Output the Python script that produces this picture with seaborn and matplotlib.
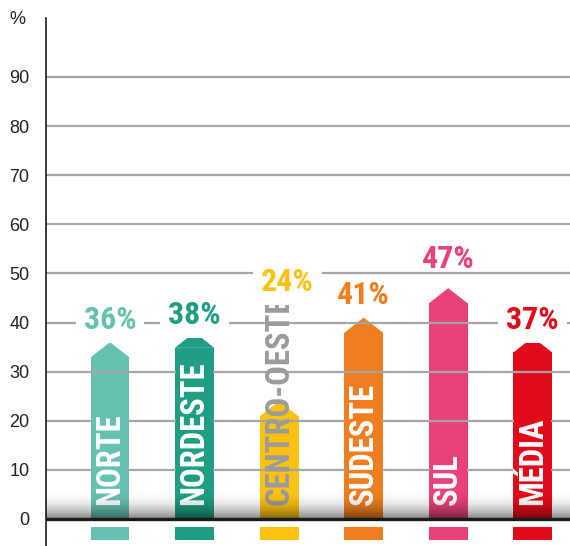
import numpy as np
import pandas as pd
import seaborn as sns
import matplotlib
matplotlib.use("Agg")
import matplotlib.pyplot as plt
from matplotlib.patches import Polygon
from matplotlib import font_manager as fm

# --- data -------------------------------------------------------------
regions = ["NORTE", "NORDESTE", "CENTRO-OESTE", "SUDESTE", "SUL", "MÉDIA"]
values = [36, 38, 24, 41, 47, 37]
colors = ["#66C1B1", "#1F9E83", "#FDC211", "#EE7E1F", "#E8417B", "#E20B1B"]
text_colors = ["white", "white", "#9B9B9B", "white", "white", "white"]
y_ticks = [0, 10, 20, 30, 40, 50, 60, 70, 80, 90]

# --- layout -----------------------------------------------------------
label_lift = [4.6, 3.6, 24.2, 4.7, 5.9, 3.6]   # gap between arrow point and value label
label_dx = [0, 0, 0.1, 0, 0, 0]
HEAD = 3.1      # height of the arrow point, in data units
BAR_W = 0.46
X_LIM = (-0.757, 5.44)
Y_LIM = (-5.5, 102)

df = pd.DataFrame({"region": regions, "value": values})

# --- fonts ------------------------------------------------------------
sns.set_theme(style="white")
available = {f.name for f in fm.fontManager.ttflist}
narrow = "DejaVu Sans"
for cand in ["Roboto Condensed", "Liberation Sans Narrow", "DejaVu Sans Condensed"]:
    if cand in available:
        narrow = cand
        break
plain = "Liberation Sans" if "Liberation Sans" in available else "DejaVu Sans"
plt.rcParams["font.family"] = [plain, "DejaVu Sans"]

fig = plt.figure(figsize=(5.70, 5.46), dpi=100)
ax = fig.add_axes([46 / 570, 0, 524 / 570, 528 / 546])

# bar bodies drawn by seaborn up to the shoulder of each arrow
body = df.assign(body=df["value"] - HEAD)
sns.barplot(data=body, x="region", y="body", hue="region", palette=colors,
            width=BAR_W, legend=False, ax=ax, zorder=2, saturation=1,
            linewidth=0)

bars = list(ax.patches)
for bar, v, c in zip(bars, values, colors):
    x0 = bar.get_x()
    w = bar.get_width()
    top = bar.get_height()
    # arrow point on top of the body
    ax.add_patch(Polygon([(x0, top - 0.05), (x0 + w, top - 0.05),
                          (x0 + w, top), (x0 + w / 2, v), (x0, top)],
                         closed=True, facecolor=c, edgecolor="none", zorder=2))
    # small key block under the zero line
    ax.add_patch(plt.Rectangle((x0, -4.3), w, 2.7, facecolor=c,
                               edgecolor="none", zorder=2))

# horizontal rules sit over the bars
for t in y_ticks[1:]:
    ax.axhline(t, color="#A5A5A5", lw=1.6, zorder=2.5)
ax.axhline(0, color="#1A1A1A", lw=2.4, zorder=6)

# region names inside the bars
for i, (name, c, tc) in enumerate(zip(regions, colors, text_colors)):
    kw = {}
    if tc == "white":
        kw["bbox"] = dict(boxstyle="square,pad=0.08", facecolor=c,
                          edgecolor="none")
    ax.text(i, 2.9, name, rotation=90, ha="center", va="bottom",
            color=tc, fontsize=23.5, fontweight="bold", family=narrow,
            zorder=3, **kw)

# value labels above the arrows; a white patch cuts the rule they sit on
for i, (v, c) in enumerate(zip(values, colors)):
    y = v + label_lift[i]
    kw = {}
    if any(abs(y - t) < 2.5 for t in y_ticks[1:]):
        kw["bbox"] = dict(boxstyle="square,pad=0.25", facecolor="white",
                          edgecolor="none")
    ax.text(i + label_dx[i], y, f"{v}%", ha="center", va="center", color=c,
            fontsize=23, fontweight="bold", family=narrow, zorder=4, **kw)

# soft shadow rising from the base line
ramp = np.linspace(0, 1, 200)[:, None] ** 2.2
shade = np.zeros((200, 2, 4))
shade[..., 3] = 0.5 * ramp
ax.imshow(shade, extent=(X_LIM[0], X_LIM[1], 0, 6.0), origin="upper",
          aspect="auto", zorder=5, interpolation="bilinear")
ax.set_xlim(*X_LIM)
ax.set_ylim(*Y_LIM)

# axes styling
ax.set_yticks(y_ticks)
ax.set_yticklabels([str(t) for t in y_ticks], fontsize=13, color="#222222")
ax.tick_params(axis="y", length=0, pad=12)
ax.set_xticks([])
ax.set_xlabel("")
ax.set_ylabel("")
for s in ["top", "right", "bottom"]:
    ax.spines[s].set_visible(False)
ax.spines["left"].set_color("#1A1A1A")
ax.spines["left"].set_linewidth(1.2)
ax.grid(False)

fig.text(17 / 570, 1 - 20 / 546, "%", ha="center", va="center",
         fontsize=13, color="#222222")

fig.savefig("out.png", dpi=100, facecolor="white")
